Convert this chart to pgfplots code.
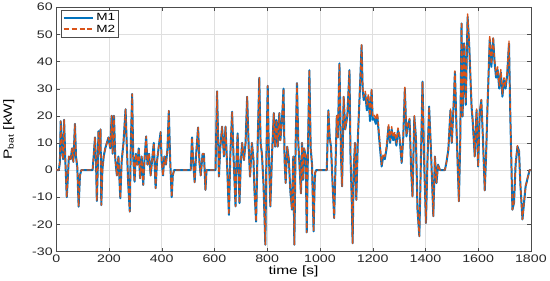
\documentclass[border=0pt]{standalone}
\usepackage{pgfplots}
\usepackage{pgfplotstable}
\pgfplotsset{compat=1.18}
\usepackage{fontspec}
\setmainfont[FakeStretch=1.3]{Liberation Sans}
\definecolor{mblue}{RGB}{0,114,189}
\definecolor{morange}{RGB}{217,83,25}
\pgfplotstableread{
t m1 m2
0 0 0
10 0 0
14 3 3
17 18 18
22 8 8
26 4 4
30 18.5 18.5
34 5 5
40 -10 -10
44 -3 -3
48 5 5
55 4 4
60 8 8
65 3 3
71 17 17
75 5 5
80 1 1
85 -13.5 -13.5
90 -2 -2
95 0 0
100 0 0
138 0 0
142 5 5
147 12 12
151 3 3
154 -11.4 -11.4
158 2 2
160 14.3 14.3
163 6 6
168 15 15
171 -12.9 -12.9
175 0 0
180 5 5
186 8 8
192 10 10
198 12 12
205 8 8
210 20 20
214 6 6
219 20 20
224 4 4
230 -2 -2
236 5 5
243 -10.4 -10.4
248 3 3
255 10 10
263 22.4 22.4
268 8 8
273 -5 -5
279 -15.3 -15.3
283 10 10
288 28 28
292 5 5
297 -4.3 -4.3
302 6 6
308 2 2
313 8 8
318 -3 -3
324 5 5
330 -5.5 -5.5
335 4 4
341 12.4 12.4
346 2 2
352 6 6
358 -2 -2
364 4 4
370 10 10
377 -6.7 -6.7
382 3 3
388 8 8
396 14 14
400 3 3
405 -2 -2
410 5 5
416 2 2
422 8 8
427 21.8 21.8
432 4 4
438 -10 -10
442 -2 -2
447 0 0
510 0 0
515 12 12
520 2 2
525 -4.5 -4.5
530 5 5
538 15.7 15.7
543 3 3
548 -2 -2
555 6 6
560 6 6
566 -7.3 -7.3
570 0 0
604 0 0
610 29 29
617 -2.4 -2.4
622 8 8
629 16 16
636 5 5
642 16 16
648 2 2
655 -16.5 -16.5
660 5 5
667 21.5 21.5
672 6 6
680 -13.4 -13.4
684 5 5
688 13.5 13.5
695 -12.2 -12.2
700 3 3
705 10 10
712 3.7 3.7
718 10 10
724 27 27
730 8 8
735 -2.4 -2.4
742 10 10
748 4 4
752 -8 -8
758 -19 -19
764 10 10
770 34 34
775 10 10
780 6 6
786 -5 -5
793 -27.5 -27.5
797 5 5
802 31 31
806 8 8
812 -13.4 -13.4
818 5 5
825 21 21
830 8.6 8.6
835 18.4 18.4
840 8.6 8.6
846 21 21
850 11 11
856 18 18
862 30 30
866 3.7 3.7
870 -4.8 -4.8
876 8.6 8.6
882 4 4
888 -8 -8
894 -14.6 -14.6
899 5 5
903 -27.5 -27.5
908 10 10
913 32 32
918 10 10
922 3 3
928 -8.6 -8.6
932 10 10
936 -3.6 -3.6
940 8 8
946 5 5
950 -23 -23
955 10 10
960 36.8 36.8
965 8 8
970 2 2
976 -22.6 -22.6
980 -5 -5
982 -1 -1
986 0 0
1026 0 0
1032 22 22
1037 12 12
1042 8.6 8.6
1048 -5 -5
1054 -17.7 -17.7
1060 5 5
1064 20 20
1068 12 12
1074 39.3 39.3
1080 5 5
1084 -6 -6
1090 27 27
1096 15 15
1104 20 20
1112 36.8 36.8
1116 5 5
1120 -8.6 -8.6
1124 -27 -27
1128 0 0
1133 10 10
1138 -11 -11
1144 12 12
1150 26 26
1158 46 46.5
1162 30 31
1166 25.8 27
1172 28 29
1178 22 24
1184 27 28
1190 18 20
1196 29.5 30
1200 18.5 20
1206 19 20.5
1212 17 18.5
1218 19.7 21
1224 12.4 14
1234 1.3 2
1240 5 6
1246 4 5
1253 8 9
1260 16 17
1266 10 11
1272 15 16
1278 11 12
1284 13 14
1290 9 10
1296 14.8 15.5
1302 12 13
1310 2.6 3
1316 12 12.5
1322 30 30.5
1328 12.4 13
1334 17 17.5
1340 18.5 19
1346 0 0
1351 -9.7 -9.7
1358 19.7 20
1364 12 12
1370 -14.6 -14.6
1377 -24.4 -24.4
1383 4 4
1389 32.6 32.6
1395 4 4
1402 -19.5 -19.5
1408 3.8 3.8
1414 23.4 23.4
1420 10 10
1430 -17 -17
1436 5 5
1442 -4.8 -4.8
1448 2 2
1455 0 0
1474 0 0
1480 3 3
1487 7.5 7.5
1495 22 22.5
1500 10 10
1506 22 22.5
1512 36.2 36.5
1518 15 15
1527 -11.5 -11.5
1532 10 10
1537 54 54.5
1541 19.7 20
1547 46.7 47
1553 24 25
1560 56.5 57.5
1566 46 47
1575 23.4 24
1580 17 18
1587 5 5
1594 22 22.5
1600 1.3 1.3
1606 21 21.5
1612 25.8 26
1618 12 12
1625 -7.5 -7.5
1630 5 5
1635 22 22.5
1644 48 49.5
1650 38 39
1657 48.5 49
1662 40 41
1668 34 35
1674 37 38
1680 30 31
1686 36 37
1692 27 28
1698 33 34
1704 30 31
1710 35 36
1717 46.6 47.5
1722 20 20
1730 -14.6 -14.6
1736 -12 -12
1742 2 2
1749 8.7 9
1755 7 7
1760 -5 -5
1768 -18.2 -18.2
1774 -12 -12
1780 -6 -6
1786 -3.6 -3.6
1795 0 0
1800 0 0
}\data
\begin{document}
\begin{tikzpicture}
\begin{axis}[
  scale only axis,
  width=476bp, height=245bp,
  xmin=0, xmax=1800, ymin=-30, ymax=60,
  xtick={0,200,...,1800},
  ytick={-30,-20,...,60},
  grid=major,
  major grid style={gray!25, line width=0.5pt},
  axis line style={gray!60!black},
  tick style={gray!60!black},
  tick align=inside,
  major tick length=3.5pt,
  ticklabel style={font=\fontsize{11}{12}\selectfont, text=black!85},
  /pgf/number format/assume math mode=true,
  /pgf/number format/1000 sep={},
  xlabel={time [s]},
  ylabel={P\textsubscript{bat} [kW]},
  label style={font=\fontsize{12}{13}\selectfont},
  xlabel style={yshift=4pt},
  ylabel style={yshift=11pt},
  legend style={at={(0.01,0.99)}, anchor=north west, font=\fontsize{10.5}{11}\selectfont,
    draw=gray!60!black, inner sep=1.5pt, row sep=-1pt},
  legend image code/.code={\draw[#1] (0cm,0cm) -- (1.05cm,0cm);},
  legend cell align=left,
]
\addplot[mblue, line width=2pt, line join=round] table[x=t, y=m1] {\data};
\addlegendentry{M1}
\addplot[morange, line width=1.4pt, dash pattern=on 4.5pt off 2.5pt, line join=round,
  legend image post style={line width=1.8pt, dash pattern=on 5pt off 3pt}] table[x=t, y=m2] {\data};
\addlegendentry{M2}
\end{axis}
\end{tikzpicture}
\end{document}
